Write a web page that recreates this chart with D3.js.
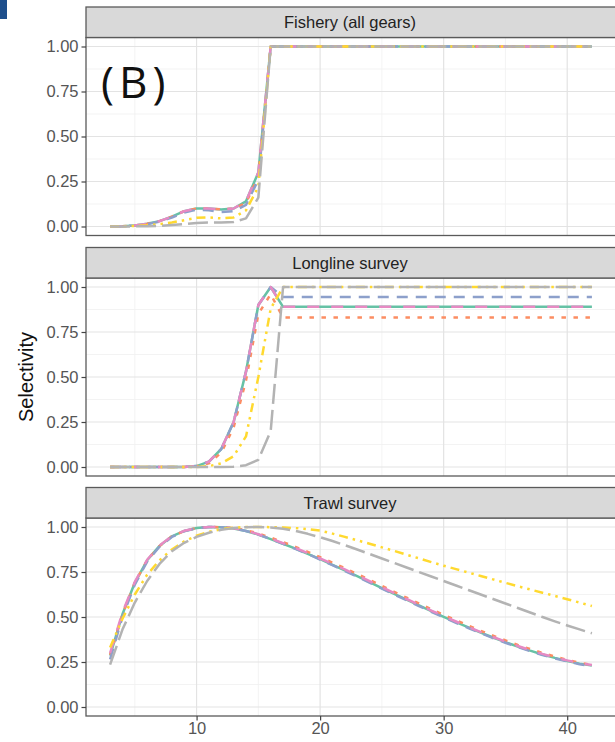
<!DOCTYPE html>
<html>
<head>
<meta charset="utf-8">
<script src="https://cdn.jsdelivr.net/npm/d3@7"></script>
<style>
  html, body { margin: 0; padding: 0; background: #fff; }
  svg { display: block; font-family: "Liberation Sans", Arial, Helvetica, sans-serif; }
</style>
</head>
<body>
<svg id="chart" width="615" height="742"></svg>
<script>
// Length bins (x axis)
const lengths = [3,4,5,6,7,8,9,10,11,12,13,14,15,16,17,18,19,20,21,22,
                 23,24,25,26,27,28,29,30,31,32,33,34,35,36,37,38,39,40,41,42];

const panelTitles = ["Fishery (all gears)", "Longline survey", "Trawl survey"];
const yTicks = [0, 0.25, 0.5, 0.75, 1];
const yTickLabels = ["0.00", "0.25", "0.50", "0.75", "1.00"];
const xTicks = [10, 20, 30, 40];
const xTickLabels = ["10", "20", "30", "40"];

// Model runs (drawing order)
const runs = ["run1", "run2", "run3", "run4", "run5", "run6"];
const runColors = ["#66C2A5", "#FC8D62", "#8DA0CB", "#E78AC3", "#FFD92F", "#B3B3B3"];
const runDashes = ["none", "4.5,7.5", "11,8", "12,12", "9,5,2.5,5,2.5,5", "20,6"];

// Fishery selectivity by run
const fishery1 = [0,0.002,0.006,0.015,0.03,0.055,0.085,0.1,0.1,0.095,0.1,0.14,0.3,
  1,1,1,1,1,1,1,1,1,1,1,1,1,1,1,1,1,1,1,1,1,1,1,1,1,1,1];
const fishery2 = [0,0.002,0.006,0.015,0.03,0.055,0.085,0.1,0.1,0.095,0.1,0.13,0.28,
  1,1,1,1,1,1,1,1,1,1,1,1,1,1,1,1,1,1,1,1,1,1,1,1,1,1,1];
const fishery3 = [0,0.002,0.005,0.013,0.027,0.05,0.078,0.093,0.09,0.08,0.085,0.12,0.26,
  1,1,1,1,1,1,1,1,1,1,1,1,1,1,1,1,1,1,1,1,1,1,1,1,1,1,1];
const fishery4 = [0,0.002,0.006,0.015,0.03,0.055,0.085,0.1,0.1,0.095,0.1,0.14,0.3,
  1,1,1,1,1,1,1,1,1,1,1,1,1,1,1,1,1,1,1,1,1,1,1,1,1,1,1];
const fishery5 = [0,0.001,0.003,0.007,0.013,0.022,0.035,0.048,0.05,0.045,0.05,0.09,0.22,
  1,1,1,1,1,1,1,1,1,1,1,1,1,1,1,1,1,1,1,1,1,1,1,1,1,1,1];
const fishery6 = [0,0,0.001,0.002,0.004,0.008,0.013,0.02,0.022,0.022,0.025,0.045,0.16,
  1,1,1,1,1,1,1,1,1,1,1,1,1,1,1,1,1,1,1,1,1,1,1,1,1,1,1];

// Longline survey selectivity by run
const longline1 = [0,0,0,0,0,0,0,0.005,0.03,0.1,0.25,0.53,0.9,1,
  0.89,0.89,0.89,0.89,0.89,0.89,0.89,0.89,0.89,0.89,0.89,0.89,0.89,0.89,0.89,0.89,
  0.89,0.89,0.89,0.89,0.89,0.89,0.89,0.89,0.89,0.89];
const longline2 = [0,0,0,0,0,0,0,0.004,0.02,0.08,0.22,0.48,0.85,0.96,
  0.83,0.83,0.83,0.83,0.83,0.83,0.83,0.83,0.83,0.83,0.83,0.83,0.83,0.83,0.83,0.83,
  0.83,0.83,0.83,0.83,0.83,0.83,0.83,0.83,0.83,0.83];
const longline3 = [0,0,0,0,0,0,0,0.005,0.03,0.1,0.25,0.53,0.9,1,
  0.945,0.945,0.945,0.945,0.945,0.945,0.945,0.945,0.945,0.945,0.945,0.945,0.945,0.945,0.945,0.945,
  0.945,0.945,0.945,0.945,0.945,0.945,0.945,0.945,0.945,0.945];
const longline4 = [0,0,0,0,0,0,0,0.005,0.03,0.1,0.25,0.53,0.9,1,
  0.89,0.89,0.89,0.89,0.89,0.89,0.89,0.89,0.89,0.89,0.89,0.89,0.89,0.89,0.89,0.89,
  0.89,0.89,0.89,0.89,0.89,0.89,0.89,0.89,0.89,0.89];
const longline5 = [0,0,0,0,0,0,0,0,0.005,0.02,0.06,0.17,0.5,0.88,
  1,1,1,1,1,1,1,1,1,1,1,1,1,1,1,1,1,1,1,1,1,1,1,1,1,1];
const longline6 = [0,0,0,0,0,0,0,0,0,0,0.002,0.01,0.04,0.2,
  1,1,1,1,1,1,1,1,1,1,1,1,1,1,1,1,1,1,1,1,1,1,1,1,1,1];

// Trawl survey selectivity by run
const trawl1 = [0.285,0.515,0.69,0.815,0.895,0.948,0.978,0.994,1,0.999,
  0.992,0.978,0.958,0.933,0.907,0.88,0.851,0.821,0.79,0.759,
  0.727,0.694,0.661,0.628,0.596,0.564,0.532,0.501,0.471,0.442,
  0.413,0.386,0.36,0.336,0.313,0.292,0.273,0.256,0.241,0.23];
const trawl2 = [0.29,0.515,0.69,0.815,0.895,0.948,0.978,0.994,1,0.999,
  0.994,0.982,0.964,0.941,0.916,0.89,0.862,0.832,0.802,0.771,
  0.739,0.706,0.673,0.64,0.607,0.575,0.543,0.512,0.482,0.452,
  0.423,0.396,0.37,0.345,0.322,0.3,0.28,0.262,0.246,0.233];
const trawl3 = [0.265,0.5,0.68,0.808,0.89,0.945,0.976,0.993,1,0.999,
  0.992,0.978,0.958,0.933,0.906,0.879,0.85,0.819,0.788,0.756,
  0.724,0.691,0.658,0.625,0.593,0.561,0.529,0.498,0.468,0.439,
  0.41,0.383,0.357,0.333,0.31,0.289,0.27,0.253,0.238,0.226];
const trawl4 = [0.3,0.525,0.695,0.818,0.897,0.949,0.979,0.994,1,0.999,
  0.993,0.979,0.96,0.936,0.91,0.884,0.855,0.825,0.795,0.764,
  0.732,0.699,0.666,0.633,0.6,0.568,0.536,0.505,0.475,0.445,
  0.416,0.389,0.363,0.339,0.316,0.295,0.276,0.259,0.244,0.233];
const trawl5 = [0.33,0.49,0.625,0.735,0.815,0.875,0.92,0.952,0.973,0.988,
  0.996,1,1,0.999,0.997,0.994,0.988,0.98,0.963,0.945,
  0.926,0.907,0.887,0.867,0.846,0.826,0.805,0.785,0.766,0.747,
  0.728,0.709,0.69,0.671,0.653,0.635,0.617,0.599,0.58,0.561];
const trawl6 = [0.235,0.43,0.58,0.7,0.795,0.865,0.912,0.945,0.968,0.984,
  0.994,0.999,1,0.997,0.99,0.978,0.962,0.943,0.922,0.899,
  0.875,0.85,0.825,0.8,0.775,0.75,0.725,0.7,0.675,0.65,
  0.625,0.6,0.575,0.55,0.525,0.5,0.476,0.453,0.431,0.41];

const panelSeries = [
  [fishery1, fishery2, fishery3, fishery4, fishery5, fishery6],
  [longline1, longline2, longline3, longline4, longline5, longline6],
  [trawl1, trawl2, trawl3, trawl4, trawl5, trawl6]
];

// ---- layout ----
const svg = d3.select("#chart");
svg.append("rect").attr("width", 615).attr("height", 742).attr("fill", "#fff");

const plotLeft = 86, plotRight = 616;
const stripH = 30.5, panelH = 198;
const stripTops = [7, 247.5, 487.5];

const x = d3.scaleLinear().domain([1.05, 43.95]).range([plotLeft, plotRight]);
const xMinor = [5, 15, 25, 35];
const yMinor = [0.125, 0.375, 0.625, 0.875];

panelTitles.forEach((title, i) => {
  const sTop = stripTops[i];
  const pTop = sTop + stripH;
  const pBot = pTop + panelH;
  const y = d3.scaleLinear().domain([-0.05, 1.05]).range([pBot, pTop]);
  const g = svg.append("g");

  // grid
  g.selectAll(".ymin").data(yMinor).join("line")
    .attr("x1", plotLeft).attr("x2", plotRight)
    .attr("y1", d => y(d)).attr("y2", d => y(d))
    .attr("stroke", "#F0F0F0").attr("stroke-width", 0.8);
  g.selectAll(".xmin").data(xMinor).join("line")
    .attr("y1", pTop).attr("y2", pBot)
    .attr("x1", d => x(d)).attr("x2", d => x(d))
    .attr("stroke", "#F0F0F0").attr("stroke-width", 0.8);
  g.selectAll(".ymaj").data(yTicks).join("line")
    .attr("x1", plotLeft).attr("x2", plotRight)
    .attr("y1", d => y(d)).attr("y2", d => y(d))
    .attr("stroke", "#E3E3E3").attr("stroke-width", 1.2);
  g.selectAll(".xmaj").data(xTicks).join("line")
    .attr("y1", pTop).attr("y2", pBot)
    .attr("x1", d => x(d)).attr("x2", d => x(d))
    .attr("stroke", "#E3E3E3").attr("stroke-width", 1.2);

  // selectivity curves
  const line = d3.line()
    .x((d, k) => x(lengths[k]))
    .y(d => y(d));
  panelSeries[i].forEach((vals, k) => {
    g.append("path")
      .datum(vals)
      .attr("d", line)
      .attr("fill", "none")
      .attr("stroke", runColors[k])
      .attr("stroke-width", 2.5)
      .attr("stroke-dasharray", runDashes[k])
      .attr("stroke-linecap", "butt")
      .attr("stroke-linejoin", "round");
  });

  // panel border
  g.append("rect")
    .attr("x", plotLeft).attr("y", pTop)
    .attr("width", plotRight - plotLeft).attr("height", panelH)
    .attr("fill", "none").attr("stroke", "#5a5a5a").attr("stroke-width", 1.3);

  // strip
  g.append("rect")
    .attr("x", plotLeft).attr("y", sTop)
    .attr("width", plotRight - plotLeft).attr("height", stripH)
    .attr("fill", "#D9D9D9").attr("stroke", "#5a5a5a").attr("stroke-width", 1.3);
  g.append("text")
    .attr("x", (plotLeft + plotRight) / 2 - 1)
    .attr("y", sTop + stripH / 2)
    .attr("dy", "0.35em")
    .attr("text-anchor", "middle")
    .attr("font-size", 16.5)
    .attr("fill", "#222")
    .text(title);

  // y axis
  const yAxis = d3.axisLeft(y).tickValues(yTicks)
    .tickFormat((d, k) => yTickLabels[k]).tickSize(4.5).tickPadding(3);
  const ya = g.append("g").attr("transform", `translate(${plotLeft},0)`).call(yAxis);
  ya.select(".domain").remove();
  ya.selectAll(".tick line").attr("stroke", "#444").attr("stroke-width", 1.2);
  ya.selectAll(".tick text").attr("font-size", 16.5).attr("fill", "#555")
    .attr("font-family", "Liberation Sans, Arial, sans-serif");

  // x axis on the bottom panel only
  if (i === panelTitles.length - 1) {
    const xAxis = d3.axisBottom(x).tickValues(xTicks)
      .tickFormat((d, k) => xTickLabels[k]).tickSize(4.5).tickPadding(2);
    const xa = g.append("g").attr("transform", `translate(0,${pBot})`).call(xAxis);
    xa.select(".domain").remove();
    xa.selectAll(".tick line").attr("stroke", "#444").attr("stroke-width", 1.2);
    xa.selectAll(".tick text").attr("font-size", 16.5).attr("fill", "#555")
      .attr("font-family", "Liberation Sans, Arial, sans-serif");
  }
});

// axis title
svg.append("text")
  .attr("transform", "translate(33,377) rotate(-90)")
  .attr("text-anchor", "middle")
  .attr("font-size", 20)
  .attr("fill", "#111")
  .text("Selectivity");

// panel tag
svg.append("text")
  .attr("x", 101).attr("y", 98)
  .attr("font-family", "Open Sans, Noto Sans, sans-serif")
  .attr("font-size", 44)
  .attr("letter-spacing", 5)
  .attr("fill", "#111")
  .text("(B)");

// corner marker
svg.append("rect").attr("x", 0).attr("y", 0).attr("width", 7).attr("height", 19)
  .attr("fill", "#1E4F8C");
</script>
</body>
</html>
